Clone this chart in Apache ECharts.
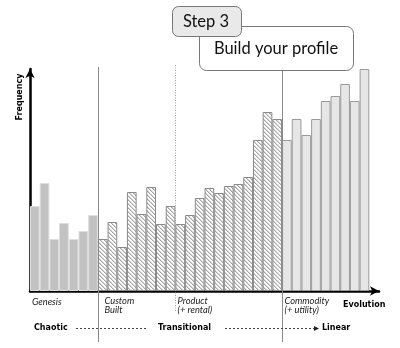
<!DOCTYPE html>
<html><head><meta charset="utf-8">
<script src="https://cdn.jsdelivr.net/npm/echarts@6/dist/echarts.min.js"></script>
<style>html,body{margin:0;padding:0;background:#fff}#c{width:400px;height:348px}</style>
</head><body><div id="c"></div>
<script>
// Bar heights (frequency) per evolution stage, left to right
const genesis = [85, 108, 52, 68, 52, 60, 76];
const customBuilt = [52, 69, 44, 99, 77, 104, 67, 85, 67, 76, 93, 103, 98, 105, 107, 114, 151, 179, 172];
const commodity = [151, 172, 156, 172, 190, 195, 207, 190, 222];
const stageLabels = [['Genesis'], ['Custom', 'Built'], ['Product', '(+ rental)'], ['Commodity', '(+ utility)']];
const characterLabels = ['Chaotic', 'Transitional', 'Linear'];
const axisNames = { x: 'Evolution', y: 'Frequency' };
const boxTexts = { step: 'Step 3', title: 'Build your profile' };

const total = genesis.length + customBuilt.length + commodity.length;
const categories = [];
for (let i = 0; i <= total; i++) categories.push('c' + i); // one empty slot before the arrow
const pad = (arr, start) => categories.map((_, i) => (i >= start && i < start + arr.length) ? arr[i - start] : '-');

// hatch pattern
const pc = document.createElement('canvas'); pc.width = 4; pc.height = 4;
const pctx = pc.getContext('2d');
for (let x = 0; x < 4; x++) for (let y = 0; y < 4; y++) {
  const k = (((x - y) % 4) + 4) % 4;
  pctx.fillStyle = k === 0 ? '#a6a6a6' : (k === 1 ? '#d4d4d4' : '#ffffff');
  pctx.fillRect(x, y, 1, 1);
}

const chart = echarts.init(document.getElementById('c'), null, { renderer: 'canvas' });
const axisLine = { show: true, symbol: ['none', 'arrow'], symbolSize: [7, 9], lineStyle: { color: '#000', width: 2.5 } };
chart.setOption({
  animation: false,
  backgroundColor: '#fff',
  grid: { left: 30, right: 21, top: 69, bottom: 57 },
  xAxis: { type: 'category', data: categories, boundaryGap: true, axisLine: axisLine, axisTick: { show: false }, axisLabel: { show: false }, splitLine: { show: false } },
  yAxis: { type: 'value', min: 0, max: 222, axisLine: axisLine, axisTick: { show: false }, axisLabel: { show: false }, splitLine: { show: false } },
  series: [
    { name: 'Genesis', type: 'bar', data: pad(genesis, 0), barCategoryGap: '0%', barGap: '-100%',
      itemStyle: { color: '#c2c2c2', borderColor: '#dedede', borderWidth: 1 } },
    { name: 'Custom Built / Product', type: 'bar', data: pad(customBuilt, genesis.length), barCategoryGap: '0%', barGap: '-100%',
      itemStyle: { color: { image: pc, repeat: 'repeat' }, borderColor: '#8a8a8a', borderWidth: 1 } },
    { name: 'Commodity', type: 'bar', data: pad(commodity, genesis.length + customBuilt.length), barCategoryGap: '0%', barGap: '-100%',
      itemStyle: { color: '#e6e6e6', borderColor: '#9a9a9a', borderWidth: 1 } }
  ]
});

const px = i => chart.convertToPixel({ xAxisIndex: 0 }, i);
const boundary = i => Math.round((px(i) + px(i + 1)) / 2) + 0.5;
const b1 = boundary(genesis.length - 1);
const bP = boundary(genesis.length + 7);
const b2 = boundary(genesis.length + customBuilt.length - 1);

const labelFont = { fontFamily: 'Lato', fontStyle: 'italic', fontSize: 9.3, fill: '#222' };
const boldFont = { fontFamily: 'DejaVu Sans', fontWeight: 'bold', fontSize: 8, fill: '#000' };
const txt = (t, x, y, f) => ({ type: 'text', z: 20, style: Object.assign({ text: t, x: x, y: y, textAlign: 'left', textVerticalAlign: 'middle', verticalAlign: 'middle' }, f) });

const g = [
  { type: 'line', z: 15, shape: { x1: b1, y1: 67, x2: b1, y2: 342 }, style: { stroke: '#8a8a8a', lineWidth: 1 } },
  { type: 'line', z: 15, shape: { x1: bP, y1: 65, x2: bP, y2: 312 }, style: { stroke: '#a0a0a0', lineWidth: 1, lineDash: [1, 1.5] } },
  { type: 'line', z: 15, shape: { x1: b2, y1: 71, x2: b2, y2: 342 }, style: { stroke: '#8a8a8a', lineWidth: 1 } },
  txt(stageLabels[0][0], 32, 302, labelFont),
  txt(stageLabels[1][0], b1 + 6, 301, labelFont),
  txt(stageLabels[1][1], b1 + 6, 310, labelFont),
  txt(stageLabels[2][0], bP + 2, 301, labelFont),
  txt(stageLabels[2][1], bP + 2, 310, labelFont),
  txt(stageLabels[3][0], b2 + 2, 301, labelFont),
  txt(stageLabels[3][1], b2 + 2, 310, labelFont),
  txt(axisNames.x, 343, 305, boldFont),
  { type: 'text', z: 20, x: 20, y: 97, rotation: Math.PI / 2, style: Object.assign({ text: axisNames.y, x: 0, y: 0, textAlign: 'center', textVerticalAlign: 'middle', verticalAlign: 'middle' }, boldFont) },
  txt(characterLabels[0], 34, 328, boldFont),
  txt(characterLabels[1], 158, 328, boldFont),
  txt(characterLabels[2], 322, 328, boldFont),
  { type: 'line', z: 15, shape: { x1: 76, y1: 328.5, x2: 146, y2: 328.5 }, style: { stroke: '#444', lineWidth: 1, lineDash: [2, 2] } },
  { type: 'line', z: 15, shape: { x1: 225, y1: 328.5, x2: 315, y2: 328.5 }, style: { stroke: '#444', lineWidth: 1, lineDash: [2, 2] } },
  { type: 'polygon', z: 15, shape: { points: [[314, 326], [319, 328.5], [314, 331]] }, style: { fill: '#222' } },
  // callout boxes
  { type: 'rect', z: 30, shape: { x: 199.5, y: 26.5, width: 154, height: 44, r: 7 }, style: { fill: '#fff', stroke: '#777', lineWidth: 1 } },
  { type: 'text', z: 31, style: { text: boxTexts.title, x: 276, y: 49, textAlign: 'center', textVerticalAlign: 'middle', verticalAlign: 'middle', fontFamily: 'Lato', fontSize: 16.5, fill: '#111' } },
  { type: 'rect', z: 32, shape: { x: 172.5, y: 6.5, width: 69, height: 30, r: 6 }, style: { fill: '#e9e9e9', stroke: '#777', lineWidth: 1 } },
  { type: 'text', z: 33, style: { text: boxTexts.step, x: 206, y: 22, textAlign: 'center', textVerticalAlign: 'middle', verticalAlign: 'middle', fontFamily: 'Lato', fontSize: 16.5, fill: '#111' } }
];
chart.setOption({ graphic: g });
</script>
</body></html>
